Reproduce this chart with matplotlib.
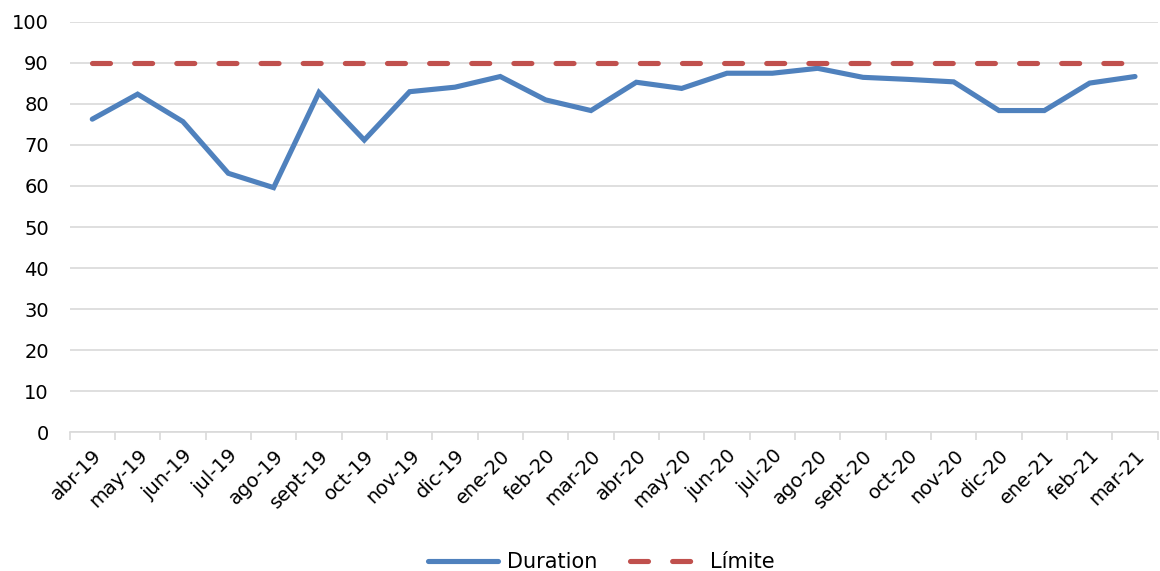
#!/usr/bin/env python3
import matplotlib
matplotlib.use("Agg")
import matplotlib.pyplot as plt
import numpy as np

# -----------------------------------------------------------------------------
# Data
# -----------------------------------------------------------------------------

months = ["abr-19", "may-19", "jun-19", "jul-19", "ago-19", "sept-19",
          "oct-19", "nov-19", "dic-19", "ene-20", "feb-20", "mar-20",
          "abr-20", "may-20", "jun-20", "jul-20", "ago-20", "sept-20",
          "oct-20", "nov-20", "dic-20", "ene-21", "feb-21", "mar-21"]
duration = [76.3, 82.4, 75.7, 63.1, 59.6, 82.8, 71.2, 83.0, 84.1, 86.7,
            81.0, 78.4, 85.3, 83.8, 87.5, 87.5, 88.7, 86.5, 86.0, 85.4,
            78.4, 78.4, 85.1, 86.7]
limite = [90] * len(months)

# -----------------------------------------------------------------------------
# Plot
# -----------------------------------------------------------------------------

plt.rcParams["font.family"] = ["DejaVu Sans"]
plt.rcParams["font.size"] = 15

fig = plt.figure(figsize=(11.6, 5.71), dpi=100)
ax = fig.add_axes([0.060, 0.2434, 0.938, 0.7181])

x = np.arange(len(months))
ax.plot(x, duration, color="#4f81bd", lw=3.7, solid_capstyle="round",
        solid_joinstyle="miter", label="Duration")
ax.plot(x, limite, color="#c0504d", lw=3.7, linestyle=(0, (3.5, 4.7)),
        dash_capstyle="round", label="Límite")

ax.set_xlim(-0.5, len(months) - 0.5)
ax.set_ylim(0, 100)
ax.set_yticks(np.arange(0, 101, 10))
ax.yaxis.grid(True, color="#d9d9d9", lw=1.2)
ax.set_axisbelow(True)

ax.set_xticks(x)
ax.set_xticklabels(months, rotation=45, ha="right", rotation_mode="anchor",
                   color="#000000", fontsize=14)
ax.set_xticks(np.arange(-0.5, len(months), 1), minor=True)
ax.tick_params(axis="x", which="major", length=0, pad=10)
ax.tick_params(axis="x", which="minor", length=6, color="#d9d9d9", width=1.2)
ax.tick_params(axis="y", length=0, pad=15, labelsize=14)

for s in ["top", "right", "left"]:
    ax.spines[s].set_visible(False)
ax.spines["bottom"].set_color("#d9d9d9")
ax.spines["bottom"].set_linewidth(1.2)

fig.legend(loc="lower center", bbox_to_anchor=(0.518, -0.035), ncol=2,
           frameon=False, handlelength=3.4, columnspacing=1.6,
           handletextpad=0.4)

fig.savefig("out.png", dpi=100)
